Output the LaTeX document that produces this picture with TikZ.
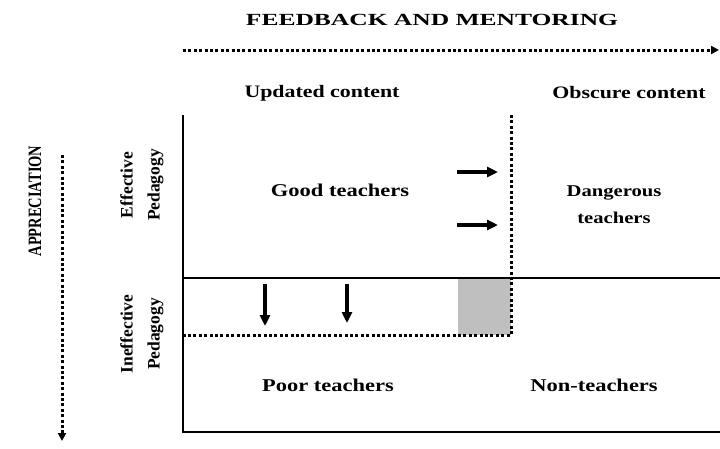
\documentclass[tikz,border=0pt]{standalone}
\usepackage{fontspec}
\setmainfont{Liberation Serif}[FakeStretch=1.25]
\newfontfamily\titlefont{Liberation Serif}[FakeStretch=1.5]
\newfontfamily\sidefont{Liberation Serif}
\usetikzlibrary{arrows.meta,positioning}

\begin{document}
\begin{tikzpicture}[
  x=1pt, y=-1pt,
  every node/.append style={inner sep=0pt, align=center},
  head/.style={font=\titlefont\bfseries\fontsize{17}{19}\selectfont},
  column head/.style={font=\bfseries\fontsize{17.5}{20}\selectfont},
  cell/.style={font=\bfseries\fontsize{18}{26}\selectfont},
  side/.style={rotate=90, font=\sidefont\bfseries\fontsize{17.5}{27}\selectfont},
  axis side/.style={rotate=90, font=\sidefont\bfseries\fontsize{14.5}{16}\selectfont},
  dotline/.style={line width=3pt, dash pattern=on 3pt off 2.4pt},
  axis arrow/.style={dotline, -{Triangle[length=8pt,width=8pt]}},
  shift arrow/.style={line width=3.2pt, -{Triangle[length=11pt,width=10pt]}}
]
\useasboundingbox (0,0) rectangle (720,448);

% frame
\coordinate (nw) at (183,115);
\coordinate (sw) at (183,432);
\coordinate (se) at (720,432);
\coordinate (mw) at (183,278);
\coordinate (me) at (720,278);
\coordinate (vtop) at (511,115);
\coordinate (corner) at (511,335);
\coordinate (hw) at (183,335);

\fill[gray!50] (458,278) rectangle (corner);
\draw[line width=2pt] (nw) -- (sw) -- (se);
\draw[line width=2pt] (mw) -- (me);
\draw[dotline] (vtop) -- (corner) -- (hw);

% axes
\node[head] (feedback) at (432,20) {FEEDBACK AND MENTORING};
\coordinate (fb start) at (183,50);
\coordinate (fb end) at (719,50);
\draw[axis arrow] (fb start) -- (fb end);

\node[axis side] (appreciation) at (35,201) {\scalebox{1}[1.3]{APPRECIATION}};
\coordinate (ap start) at (62,155);
\coordinate (ap end) at (62,441);
\draw[axis arrow] (ap start) -- (ap end);

% column and row heads
\node[column head] (updated) at (322,93) {Updated content};
\node[column head] (obscure) at (629,93) {Obscure content};
\node[side] (effective) at (142,185) {Effective\\Pedagogy};
\node[side] (ineffective) at (142,334) {Ineffective\\Pedagogy};

% cells
\node[cell] (good) at (340,190) {Good teachers};
\node[cell, font=\bfseries\fontsize{16.5}{27}\selectfont] (dangerous) at (614,205) {Dangerous\\teachers};
\node[cell] (poor) at (328,385) {Poor teachers};
\node[cell] (non) at (594,385) {Non-teachers};

% shifts
\foreach \y [count=\i] in {172,225} {
  \coordinate (r\i a) at (457,\y);
  \coordinate (r\i b) at (498,\y);
  \draw[shift arrow] (r\i a) -- (r\i b);
}
\foreach \x/\e [count=\i] in {265/326,347/323} {
  \coordinate (d\i a) at (\x,284);
  \coordinate (d\i b) at (\x,\e);
  \draw[shift arrow] (d\i a) -- (d\i b);
}
\end{tikzpicture}
\end{document}
